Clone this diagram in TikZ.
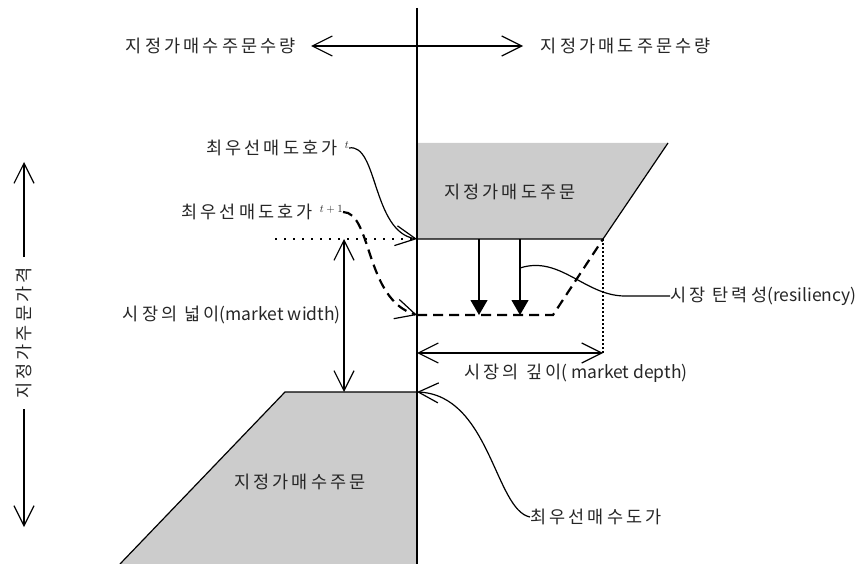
\documentclass[tikz,border=0pt]{standalone}
\usepackage{fontspec}
\setmainfont{Noto Sans CJK KR}[LetterSpace=18]
\newfontfamily\mklat{Noto Sans CJK KR}
\usetikzlibrary{arrows.meta}
\definecolor{mkcinza}{HTML}{CCCCCC}
\newcommand{\mksup}[1]{\raisebox{6pt}{\fontsize{11}{11}\selectfont$#1$}}
\tikzset{
  mkrotulo/.style={font=\fontsize{17.5}{19}\selectfont, text=black!85, inner sep=0pt},
  mkfino/.style={line width=1.2pt},
  mkqueda/.style={-{Triangle[length=15pt,width=17pt]}, line width=1.2pt},
  mktracejado/.style={line width=2.2pt, dash pattern=on 10pt off 6pt},
  mkpontilhado/.style={line width=1.6pt, dash pattern=on 1.6pt off 7.4pt},
  mkpontofino/.style={line width=1.5pt, dash pattern=on 1.5pt off 2.5pt},
}
\begin{document}
\begin{tikzpicture}[x=1pt, y=-1pt,
    >={Straight Barb[length=20pt,width=20pt,line width=1.2pt]}]
  \useasboundingbox (0,0) rectangle (864,564);
  % pontos de apoio
  \coordinate (eixotopo) at (417,8);
  \coordinate (eixobase) at (417,564);
  \coordinate (vendaA) at (417,143);
  \coordinate (vendaB) at (668,143);
  \coordinate (vendaC) at (603,239);
  \coordinate (vendaD) at (417,239);
  \coordinate (novoE) at (417,315);
  \coordinate (novoF) at (553,315);
  \coordinate (compraA) at (285,392);
  \coordinate (compraB) at (417,392);
  \coordinate (compraC) at (120,564);
  \coordinate (compraD) at (417,564);
  \coordinate (qesq) at (311,46);
  \coordinate (qdir) at (523,46);
  \coordinate (pontoini) at (275,239);
  \coordinate (fundoP) at (603,353);
  \coordinate (q1a) at (479,239);
  \coordinate (q1b) at (479,315);
  \coordinate (q2a) at (520,239);
  \coordinate (q2b) at (520,315);
  \coordinate (larg1) at (344,239);
  \coordinate (larg2) at (344,392);
  \coordinate (prof1) at (417,353);
  \coordinate (prof2) at (603,353);
  \coordinate (pcima) at (24,162);
  \coordinate (pbaixo) at (24,527);
  \coordinate (rini) at (520,268);
  % ordens
  \fill[mkcinza] (vendaA) -- (vendaB) -- (vendaC) -- (vendaD) -- cycle;
  \fill[mkcinza] (compraA) -- (compraB) -- (compraD) -- (compraC) -- cycle;
  \draw[mkfino] (vendaD) -- (vendaC) -- (vendaB);
  \draw[mkfino] (compraC) -- (compraA) -- (compraB);
  \draw[line width=1.5pt] (eixotopo) -- (eixobase);
  % rotulos
  \node[mkrotulo] (qcompra) at (211,46) {지정가매수주문수량};
  \node[mkrotulo] (qvenda) at (626,46) {지정가매도주문수량};
  \node[mkrotulo] (ovenda) at (510,192) {지정가매도주문};
  \node[mkrotulo] (ocompra) at (300,482) {지정가매수주문};
  \node[mkrotulo, anchor=east] (mdt) at (349,148) {최우선매도호가 \mksup{t}};
  \node[mkrotulo, anchor=east] (mdt1) at (343,212) {최우선매도호가 \mksup{t+1}};
  \node[mkrotulo, anchor=east] (larg) at (341,315) {시장의 넓이{\mklat (market width)}};
  \node[mkrotulo] (prof) at (576,373) {시장의 깊이{\mklat ( market depth)}};
  \node[mkrotulo, anchor=west] (mtr) at (670,296) {시장 탄력성{\mklat (resiliency)}};
  \node[mkrotulo, anchor=west] (mbd) at (530,517) {최우선매수도가};
  \node[mkrotulo, rotate=90, inner sep=10pt] (preco) at (24,333) {지정가주문가격};
  % setas
  \draw[mkfino, <->] (qesq) -- (qdir);
  \draw[mkfino, ->] (preco.east) -- (pcima);
  \draw[mkfino, ->] (preco.west) -- (pbaixo);
  \draw[mkfino, <->] (larg1) -- (larg2);
  \draw[mkfino, <->] (prof1) -- (prof2);
  \draw[mkqueda] (q1a) -- (q1b);
  \draw[mkqueda] (q2a) -- (q2b);
  \draw[mktracejado] (novoE) -- (novoF) -- (vendaC);
  \draw[mkpontilhado] (pontoini) -- (vendaD);
  \draw[mkpontofino] (vendaC) -- (fundoP);
  % curvas dos rotulos
  \draw[mkfino, ->] (mdt.east) .. controls (378,143) and (372,232) .. (vendaD);
  \draw[mktracejado, ->] (mdt1.east) .. controls (372,212) and (365,300) .. (novoE);
  \draw[mkfino, ->] (mbd.west) .. controls (495,510) and (490,395) .. (compraB);
  \draw[mkfino] (rini) .. controls (560,255) and (585,296) .. (625,296) -- (mtr.west);
\end{tikzpicture}
\end{document}
